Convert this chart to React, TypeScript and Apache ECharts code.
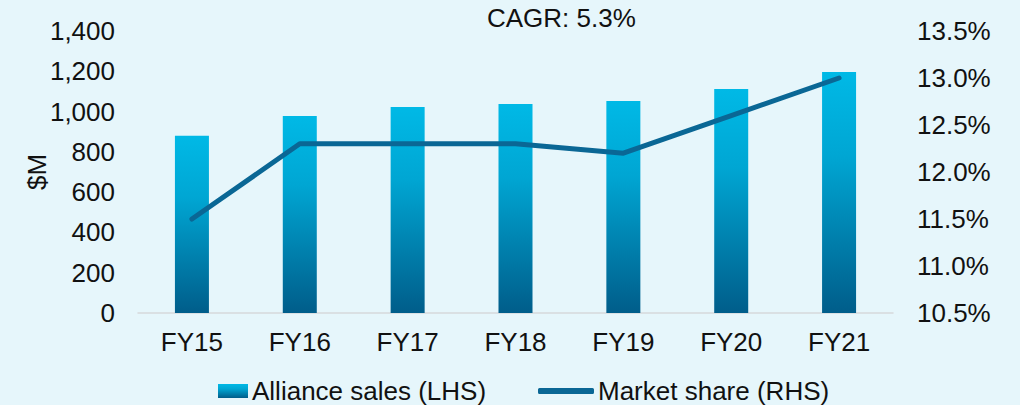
import React, { useEffect, useRef } from "react";
import * as echarts from "echarts";

const categories = ["FY15", "FY16", "FY17", "FY18", "FY19", "FY20", "FY21"];
const allianceSales = [880, 978, 1023, 1038, 1053, 1112, 1197];
const marketShare = [11.5, 12.3, 12.3, 12.3, 12.2, 12.6, 13.0];
const salesName = "Alliance sales (LHS)";
const shareName = "Market share (RHS)";
const cagrText = "CAGR: 5.3%";
const leftAxisTitle = "$M";

const FONT = "'Liberation Sans', Arial, sans-serif";
const TXT = "#111111";
const LINE = "#0A6795";
const FS = 26;

export default function App() {
  const ref = useRef<HTMLDivElement>(null);
  useEffect(() => {
    document.body.style.margin = "0";
    const chart = echarts.init(ref.current!, undefined, { renderer: "svg" });
    chart.setOption({
      animation: false,
      backgroundColor: "#E6F6FB",
      textStyle: { fontFamily: FONT, color: TXT },
      grid: { left: 138, right: 127, top: 31, bottom: 92 },
      graphic: [
        {
          type: "text",
          left: 487,
          top: 5,
          style: { text: cagrText, font: `${FS}px ${FONT}`, fill: TXT },
        },
        {
          type: "text",
          x: 37,
          y: 172,
          rotation: Math.PI / 2,
          style: {
            text: leftAxisTitle,
            font: `${FS}px ${FONT}`,
            fill: TXT,
            align: "center",
            verticalAlign: "middle",
          },
        },
      ],
      legend: [
        {
          data: [salesName],
          left: 213,
          top: 373,
          itemWidth: 30,
          itemHeight: 14,
          itemGap: 4,
          icon: "rect",
          textStyle: { fontSize: FS, color: TXT, fontFamily: FONT, padding: [0, 0, 0, -1] },
        },
        {
          data: [shareName],
          left: 533,
          top: 373,
          itemWidth: 56,
          itemHeight: 6,
          icon: "roundRect",
          textStyle: { fontSize: FS, color: TXT, fontFamily: FONT, padding: [0, 0, 0, -1] },
        },
      ],
      xAxis: {
        type: "category",
        data: categories,
        axisLine: { show: true, lineStyle: { color: "#D6D9DB", width: 1.5 } },
        axisTick: { show: false },
        axisLabel: { fontSize: FS, color: TXT, margin: 16, fontFamily: FONT },
      },
      yAxis: [
        {
          type: "value",
          min: 0,
          max: 1400,
          interval: 200,
          axisLine: { show: false },
          axisTick: { show: false },
          splitLine: { show: false },
          axisLabel: {
            fontSize: FS,
            color: TXT,
            margin: 23,
            fontFamily: FONT,
            formatter: (v: number) => v.toLocaleString("en-US"),
          },
        },
        {
          type: "value",
          min: 10.5,
          max: 13.5,
          interval: 0.5,
          position: "right",
          axisLine: { show: false },
          axisTick: { show: false },
          splitLine: { show: false },
          axisLabel: {
            fontSize: FS,
            color: TXT,
            margin: 24,
            fontFamily: FONT,
            formatter: (v: number) => v.toFixed(1) + "%",
          },
        },
      ],
      series: [
        {
          name: salesName,
          type: "bar",
          data: allianceSales,
          barWidth: 34,
          itemStyle: {
            color: new echarts.graphic.LinearGradient(0, 0, 0, 1, [
              { offset: 0, color: "#00B9E6" },
              { offset: 0.35, color: "#00A6D3" },
              { offset: 1, color: "#005D8A" },
            ]),
          },
        },
        {
          name: shareName,
          type: "line",
          yAxisIndex: 1,
          data: marketShare,
          symbol: "none",
          color: LINE,
          lineStyle: { color: LINE, width: 5, cap: "round", join: "round" },
        },
      ],
    });
    return () => chart.dispose();
  }, []);
  return <div ref={ref} style={{ width: 1020, height: 405 }} />;
}
